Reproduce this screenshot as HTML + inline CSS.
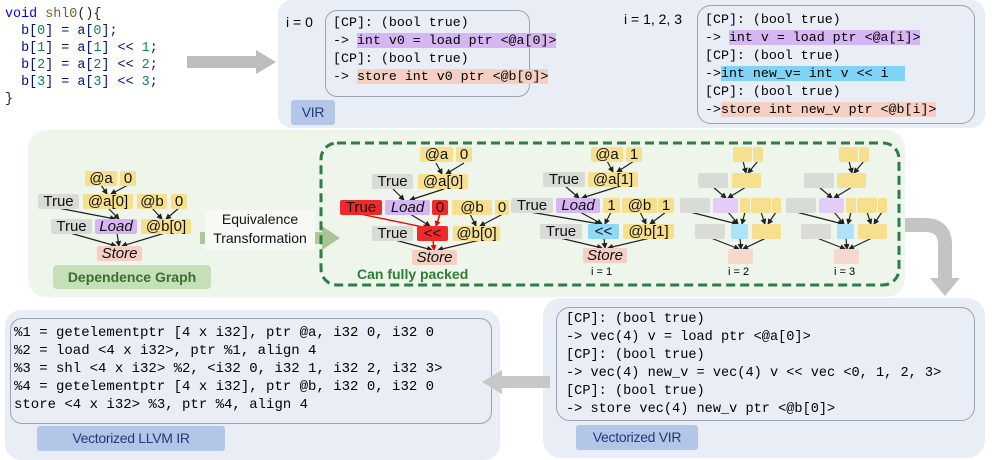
<!DOCTYPE html>
<html><head><meta charset="utf-8"><style>
body{margin:0;width:997px;height:454px;position:relative;overflow:hidden;background:#fff;font-family:"Liberation Sans",sans-serif}
.a{position:absolute}
.m{font-family:"Liberation Mono",monospace;white-space:pre}
.n{position:absolute;height:15px;line-height:15px;font-size:15px;text-align:center;border-radius:2px;color:#111;white-space:nowrap}
.y{background:#f6df8d}.g{background:#d9dbd6}.p{background:#d5b5f2;font-style:italic}.s{background:#f5cfc2;font-style:italic}.r{background:#f02a2a}.b{background:#8fd8f7}
.lbl{position:absolute;background:#b4c6e7;color:#1f3a78;font-size:14px;border-radius:3px;text-align:center;line-height:25px;height:25px;white-space:nowrap;letter-spacing:-0.3px}
.ln{position:absolute;font-size:13.3px;line-height:18px}
</style></head><body>
<div class="a m" style="left:5px;top:6px;font-size:13.4px;line-height:17px;color:#001080"><span style="color:#0000ff">void</span> <span style="color:#795e26">shl0</span><span style="color:#222">(){</span>
  b[<span style="color:#098658">0</span>] = a[<span style="color:#098658">0</span>];
  b[<span style="color:#098658">1</span>] = a[<span style="color:#098658">1</span>] &lt;&lt; <span style="color:#098658">1</span>;
  b[<span style="color:#098658">2</span>] = a[<span style="color:#098658">2</span>] &lt;&lt; <span style="color:#098658">2</span>;
  b[<span style="color:#098658">3</span>] = a[<span style="color:#098658">3</span>] &lt;&lt; <span style="color:#098658">3</span>;
<span style="color:#222">}</span></div>

<div class="a" style="left:278px;top:0;width:707px;height:128px;background:#e8edf6;border-radius:14px"></div>
<div class="a" style="left:28px;top:130px;width:877px;height:167px;background:#eef5ea;border-radius:18px"></div>
<div class="a" style="left:543px;top:298px;width:442px;height:160px;background:#e8edf6;border-radius:18px"></div>
<div class="a" style="left:5px;top:310px;width:495px;height:150px;background:#e8edf6;border-radius:16px"></div>

<div class="a" style="left:325px;top:10px;width:203px;height:85px;border:1.5px solid #9aa3b5;border-radius:12px"></div>
<div class="a" style="left:697px;top:5px;width:276px;height:117px;border:1.5px solid #9aa3b5;border-radius:14px"></div>
<div class="a" style="left:286px;top:14px;font-size:14px">i = 0</div>
<div class="a" style="left:624px;top:11px;font-size:14px">i = 1, 2, 3</div>
<div class="a m ln" style="left:333px;top:14px">[CP]: (bool true)
-&gt; <span style="background:#d5b5f2">int v0 = load ptr &lt;@a[0]&gt;</span>
[CP]: (bool true)
-&gt; <span style="background:#f5cfc2">store int v0 ptr &lt;@b[0]&gt;</span></div>
<div class="a m ln" style="left:705px;top:11px">[CP]: (bool true)
-&gt; <span style="background:#d5b5f2">int v = load ptr &lt;@a[i]&gt;</span>
[CP]: (bool true)
-&gt;<span style="background:#7fd3f7">int new_v= int v &lt;&lt; i  </span>
[CP]: (bool true)
-&gt;<span style="background:#f5cfc2">store int new_v ptr &lt;@b[i]&gt;</span></div>
<div class="lbl" style="left:291px;top:100px;width:44px">VIR</div>

<div class="a" style="left:10px;top:318px;width:480px;height:104px;border:1.5px solid #9aa3b5;border-radius:12px"></div>
<div class="a" style="left:556px;top:307px;width:417px;height:112px;border:1.5px solid #9aa3b5;border-radius:14px"></div>
<div class="a m" style="left:14px;top:324px;font-size:14px;line-height:18px">%1 = getelementptr [4 x i32], ptr @a, i32 0, i32 0
%2 = load &lt;4 x i32&gt;, ptr %1, align 4
%3 = shl &lt;4 x i32&gt; %2, &lt;i32 0, i32 1, i32 2, i32 3&gt;
%4 = getelementptr [4 x i32], ptr @b, i32 0, i32 0
store &lt;4 x i32&gt; %3, ptr %4, align 4</div>
<div class="a m" style="left:566px;top:311px;font-size:13.6px;line-height:18px">[CP]: (bool true)
-&gt; vec(4) v = load ptr &lt;@a[0]&gt;
[CP]: (bool true)
-&gt; vec(4) new_v = vec(4) v &lt;&lt; vec &lt;0, 1, 2, 3&gt;
[CP]: (bool true)
-&gt; store vec(4) new_v ptr &lt;@b[0]&gt;</div>
<div class="lbl" style="left:37px;top:426px;width:188px">Vectorized LLVM IR</div>
<div class="lbl" style="left:576px;top:425px;width:122px">Vectorized VIR</div>

<svg class="a" style="left:0;top:0" width="997" height="454">
<defs><marker id="h" markerWidth="6" markerHeight="6" refX="5" refY="3" orient="auto" markerUnits="userSpaceOnUse"><path d="M0,0L6,3L0,6z" fill="#222"/></marker>
<marker id="hr" markerWidth="6" markerHeight="6" refX="5" refY="3" orient="auto" markerUnits="userSpaceOnUse"><path d="M0,0L6,3L0,6z" fill="#e00"/></marker></defs>
<path d="M187,62H258" stroke="#bdbdbd" stroke-width="12"/><path d="M256,50L276,62L256,74z" fill="#bdbdbd"/>
<path d="M550,382H500" stroke="#c8c8c8" stroke-width="12"/><path d="M502,370L482,382L502,394z" fill="#c8c8c8"/>
<path d="M905,225H925Q945,225 945,245V280" stroke="#c4c4c4" stroke-width="14" fill="none"/><path d="M930,278L945,296L960,278z" fill="#c4c4c4"/>
<path d="M200,238H325" stroke="#a9c493" stroke-width="12" opacity=".9"/><path d="M322,226L340,238L322,250z" fill="#a9c493"/>
<rect x="321" y="143" width="578" height="142" rx="16" fill="none" stroke="#2e7d46" stroke-width="3" stroke-dasharray="9,5"/>
<g stroke="#222" stroke-width="1.2" marker-end="url(#h)" fill="none">
<path d="M101,185L107,194"/><path d="M128,185L111,194"/><path d="M152,208L162,219"/><path d="M179,208L166,219"/>
<path d="M58,208L115,219"/><path d="M108,208L119,219"/>
<path d="M70,233L116,246"/><path d="M117,233L119,246"/><path d="M165,233L122,246"/>
<path d="M436,163L442,174"/><path d="M464,163L446,174"/><path d="M470,214L476,226"/><path d="M503,214L480,226"/>
<path d="M393,189L404,200"/><path d="M444,189L410,200"/>
<path d="M410,214L430,226"/>
<path d="M395,240L432,250"/><path d="M480,240L438,250"/>
<path d="M607,161L613,172"/><path d="M634,161L617,172"/><path d="M565,186L579,198"/><path d="M620,186L582,198"/>
<path d="M530,212L600,224"/><path d="M580,212L602,224"/><path d="M611,212L605,224"/><path d="M640,212L646,224"/><path d="M666,212L650,224"/>
<path d="M560,238L602,248"/><path d="M604,238L605,248"/><path d="M650,238L608,248"/>
<path d="M743,161L746,173"/><path d="M758,161L748,173"/><path d="M713,187L726,198"/><path d="M746,187L728,198"/>
<path d="M690,212L737,224"/><path d="M728,212L738,224"/><path d="M745,212L742,224"/><path d="M761,212L765,224"/><path d="M776,212L768,224"/>
<path d="M711,238L739,249"/><path d="M740,238L741,249"/><path d="M766,238L743,249"/>
<path d="M849,161L852,173"/><path d="M864,161L854,173"/><path d="M819,187L832,198"/><path d="M852,187L834,198"/>
<path d="M796,212L843,224"/><path d="M834,212L844,224"/><path d="M851,212L848,224"/><path d="M867,212L871,224"/><path d="M882,212L874,224"/>
<path d="M817,238L845,249"/><path d="M846,238L847,249"/><path d="M872,238L849,249"/>
</g>
<g stroke="#e00" stroke-width="1.4" marker-end="url(#hr)" fill="none">
<path d="M360,214L428,228"/><path d="M440,214L436,226"/><path d="M433,240L434,250"/>
</g>
</svg>

<div class="n y" style="left:85px;top:171px;width:32px">@a</div><div class="n y" style="left:120px;top:171px;width:16px">0</div>
<div class="n g" style="left:38px;top:194px;width:41px">True</div><div class="n y" style="left:83px;top:194px;width:50px">@a[0]</div><div class="n y" style="left:137px;top:194px;width:30px">@b</div><div class="n y" style="left:171px;top:194px;width:16px">0</div>
<div class="n g" style="left:51px;top:219px;width:41px">True</div><div class="n p" style="left:95px;top:219px;width:42px">Load</div><div class="n y" style="left:141px;top:219px;width:50px">@b[0]</div>
<div class="n s" style="left:97px;top:246px;width:45px">Store</div>
<div class="a" style="left:53px;top:265px;width:158px;height:24px;background:#c5dfb8;border-radius:4px;color:#3c6e2c;font-weight:bold;font-size:14px;text-align:center;line-height:24px">Dependence Graph</div>
<div class="a" style="left:205px;top:210px;width:110px;height:40px;background:#f7f9f5;font-size:14px;text-align:center;line-height:19px;color:#111;white-space:nowrap">Equivalence<br>Transformation</div>

<div class="n y" style="left:420px;top:147px;width:33px">@a</div><div class="n y" style="left:456px;top:147px;width:16px">0</div>
<div class="n g" style="left:372px;top:174px;width:41px">True</div><div class="n y" style="left:418px;top:174px;width:50px">@a[0]</div>
<div class="n r" style="left:340px;top:200px;width:42px">True</div><div class="n p" style="left:385px;top:200px;width:45px">Load</div><div class="n r" style="left:432px;top:200px;width:16px">0</div><div class="n y" style="left:452px;top:200px;width:40px">@b</div><div class="n y" style="left:495px;top:200px;width:14px">0</div>
<div class="n g" style="left:372px;top:226px;width:41px">True</div><div class="n r" style="left:417px;top:226px;width:31px">&lt;&lt;</div><div class="n y" style="left:453px;top:226px;width:47px">@b[0]</div>
<div class="n s" style="left:412px;top:250px;width:45px">Store</div>
<div class="a" style="left:357px;top:266px;color:#2e7d32;font-weight:bold;font-size:14px">Can fully packed</div>

<div class="n y" style="left:591px;top:147px;width:32px">@a</div><div class="n y" style="left:626px;top:147px;width:16px">1</div>
<div class="n g" style="left:543px;top:172px;width:42px">True</div><div class="n y" style="left:588px;top:172px;width:50px">@a[1]</div>
<div class="n g" style="left:511px;top:198px;width:42px">True</div><div class="n p" style="left:556px;top:198px;width:44px">Load</div><div class="n y" style="left:603px;top:198px;width:17px">1</div><div class="n y" style="left:622px;top:198px;width:35px">@b</div><div class="n y" style="left:658px;top:198px;width:16px">1</div>
<div class="n g" style="left:540px;top:224px;width:42px">True</div><div class="n b" style="left:588px;top:224px;width:31px">&lt;&lt;</div><div class="n y" style="left:623px;top:224px;width:51px">@b[1]</div>
<div class="n s" style="left:583px;top:248px;width:44px">Store</div>
<div class="a" style="left:591px;top:266px;font-size:11px">i = 1</div>

<div class="n y" style="left:733px;top:147px;width:19px"></div><div class="n y" style="left:753px;top:147px;width:10px"></div>
<div class="n g" style="left:698px;top:173px;width:30px"></div><div class="n y" style="left:732px;top:173px;width:29px"></div>
<div class="n g" style="left:680px;top:198px;width:30px"></div><div class="n p" style="left:713px;top:198px;width:25px;background:#e3cdf6"></div><div class="n y" style="left:740px;top:198px;width:10px"></div><div class="n y" style="left:751px;top:198px;width:20px"></div><div class="n y" style="left:772px;top:198px;width:9px"></div>
<div class="n g" style="left:695px;top:224px;width:30px"></div><div class="n b" style="left:731px;top:224px;width:17px;background:#aee2f6"></div><div class="n y" style="left:752px;top:224px;width:29px"></div>
<div class="n s" style="left:728px;top:249px;width:25px;background:#f6d8cd"></div>
<div class="a" style="left:728px;top:266px;font-size:11px">i = 2</div>

<div class="n y" style="left:839px;top:147px;width:19px"></div><div class="n y" style="left:859px;top:147px;width:10px"></div>
<div class="n g" style="left:804px;top:173px;width:30px"></div><div class="n y" style="left:837px;top:173px;width:29px"></div>
<div class="n g" style="left:786px;top:198px;width:30px"></div><div class="n p" style="left:819px;top:198px;width:25px;background:#e3cdf6"></div><div class="n y" style="left:846px;top:198px;width:10px"></div><div class="n y" style="left:857px;top:198px;width:20px"></div><div class="n y" style="left:878px;top:198px;width:9px"></div>
<div class="n g" style="left:801px;top:224px;width:30px"></div><div class="n b" style="left:837px;top:224px;width:17px;background:#aee2f6"></div><div class="n y" style="left:858px;top:224px;width:29px"></div>
<div class="n s" style="left:834px;top:249px;width:25px;background:#f6d8cd"></div>
<div class="a" style="left:834px;top:266px;font-size:11px">i = 3</div>
</body></html>
